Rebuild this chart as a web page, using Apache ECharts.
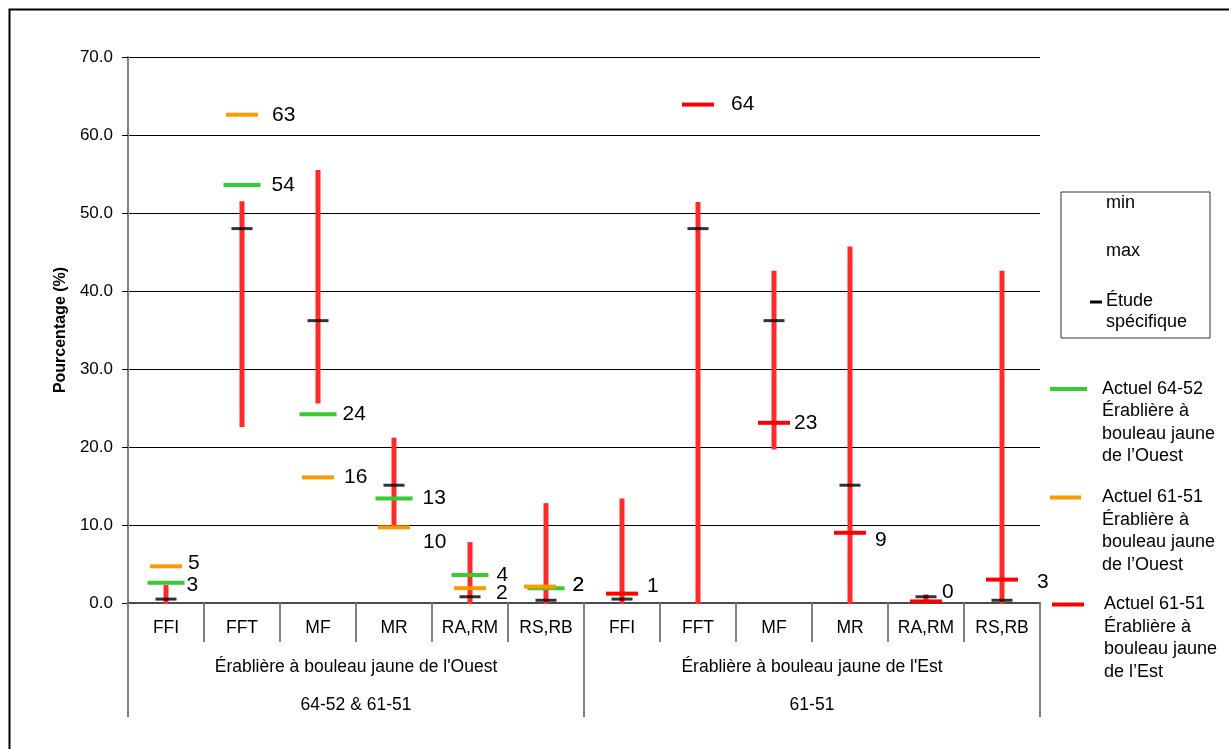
<!DOCTYPE html>
<html>
<head>
<meta charset="utf-8">
<script src="https://cdn.jsdelivr.net/npm/echarts@6/dist/echarts.min.js"></script>
<style>
html,body{margin:0;padding:0;background:#fff;}
#chart{width:1229px;height:749px;}
</style>
</head>
<body>
<div id="chart"></div>
<script>
// ---------- data ----------
const categories = ['FFI','FFT','MF','MR','RA,RM','RS,RB','FFI','FFT','MF','MR','RA,RM','RS,RB'];
const groups = ["Érablière à bouleau jaune de l'Ouest", "Érablière à bouleau jaune de l'Est"];
const periods = ['64-52 & 61-51', '61-51'];
const rangeMin = [0, 22.7, 25.7, 10.0, 0, 0,   0, 0, 19.8, 0, 0, 0];
const rangeMax = [2.3, 51.5, 55.5, 21.2, 7.8, 12.8,   13.4, 51.4, 42.6, 45.7, 1.1, 42.6];
const etude = [0.5, 48.0, 36.2, 15.1, 0.8, 0.35,   0.5, 48.0, 36.2, 15.1, 0.8, 0.35];
const actuel6452Ouest = [2.6, 53.6, 24.2, 13.4, 3.6, 1.9, null, null, null, null, null, null];
const actuel6151Ouest = [4.7, 62.6, 16.1, 9.7, 1.9, 2.1, null, null, null, null, null, null];
const actuel6151Est = [null, null, null, null, null, null, 1.2, 63.9, 23.1, 9.0, 0.2, 3.0];
const yTicks = [0, 10, 20, 30, 40, 50, 60, 70];
const boxLegend = ['min', 'max', 'Étude\nspécifique'];
const seriesNames = [
  'Actuel 64-52\nÉrablière à\nbouleau jaune\nde l’Ouest',
  'Actuel 61-51\nÉrablière à\nbouleau jaune\nde l’Ouest',
  'Actuel 61-51\nÉrablière à\nbouleau jaune\nde l’Est'
];

// ---------- styles ----------
const FONT = '"Liberation Sans", Arial, sans-serif';
const GREEN = '#33cc33', ORANGE = '#ff9900', RED = '#ff0000', BAR_RED = '#ff2a2a';

// label nudges (pixels) to match the original placement
const nudges = {
  green:  {0:[-6,2], 1:[3,0], 2:[-2,0], 3:[2,0], 5:[0,-3]},
  orange: {0:[-2,-3], 1:[6,0], 2:[2,0], 3:[5,15], 4:[2,5], 5:[8.5,-1.4]},
  red:    {6:[1,-7], 7:[9,0], 8:[-4,0], 9:[1,7], 10:[-8,-9], 11:[11,3]}
};
const symbolShift = {orange: {5: [-6, 0]}};

function markData(vals, key){
  return vals.map((v,i) => {
    if (v == null) return '-';
    const item = {value: v, label: {offset: nudges[key][i] || [0,0]}};
    if (symbolShift[key] && symbolShift[key][i]) item.symbolOffset = symbolShift[key][i];
    return item;
  });
}
function markSeries(name, vals, key, color, size){
  return {
    name: name, type: 'scatter', xAxisIndex: 0,
    symbol: 'rect', symbolSize: size,
    itemStyle: {color: color, opacity: 1},
    label: {show: true, position: 'right', distance: 8, color: '#000',
      fontFamily: FONT, fontSize: 21,
      formatter: p => String(Math.round(p.value))},
    data: markData(vals, key), z: 5, silent: true
  };
}

const chart = echarts.init(document.getElementById('chart'), null, {renderer: 'canvas'});

// legend graphics
const legendGraphics = [];
legendGraphics.push({type:'rect', shape:{x:1061, y:192, width:149, height:146},
  style:{fill:'none', stroke:'#333', lineWidth:1}});
const boxY = [204, 252, 302];
boxLegend.forEach((t,i) => {
  legendGraphics.push({type:'text', x:1106, y:boxY[i]-11,
    style:{text:t, font:'18px ' + FONT, fill:'#000', textAlign:'left', textVerticalAlign:'top', lineHeight:21}});
});
legendGraphics.push({type:'line', shape:{x1:1090, y1:302, x2:1102, y2:302}, style:{stroke:'#000', lineWidth:3}});

const legColors = [GREEN, ORANGE, RED];
const legY = [389, 497.5, 604.5];
const legLine = [[1050,1087],[1050,1081],[1052,1084]];
const legTextX = [1102, 1102, 1104];
seriesNames.forEach((t,i) => {
  legendGraphics.push({type:'line', shape:{x1:legLine[i][0], y1:legY[i], x2:legLine[i][1], y2:legY[i]},
    style:{stroke:legColors[i], lineWidth:4}});
  legendGraphics.push({type:'text', x:legTextX[i], y:legY[i]-11.25,
    style:{text:t, font:'18px ' + FONT, fill:'#000', textAlign:'left', textVerticalAlign:'top', lineHeight:22.5}});
});
// outer frame
legendGraphics.push({type:'rect', shape:{x:9.5, y:9.5, width:1240, height:760},
  style:{fill:'none', stroke:'#000', lineWidth:2}, z:-1});

const option = {
  backgroundColor: '#fff',
  animation: false,
  textStyle: {fontFamily: FONT},
  grid: {left: 128, right: 189, top: 57, bottom: 146, containLabel: false},
  xAxis: [
    {
      type: 'category', data: categories, position: 'bottom', boundaryGap: true,
      axisLine: {show: true, lineStyle: {color: '#4d4d4d', width: 2}},
      axisTick: {show: true, interval: 0, length: 39, lineStyle: {color: '#808080', width: 2}},
      axisLabel: {interval: 0, margin: 16, color: '#000', fontSize: 17.5, fontFamily: FONT},
      splitLine: {show: false}
    },
    {
      type: 'category', data: groups, position: 'bottom', boundaryGap: true,
      axisLine: {show: false},
      axisTick: {show: true, interval: 0, length: 114, lineStyle: {color: '#808080', width: 2}},
      axisLabel: {interval: 0, margin: 45, color: '#000', fontSize: 17.5, fontFamily: FONT, lineHeight: 38,
        formatter: (v, i) => v + '\n' + periods[i]},
      splitLine: {show: false}
    }
  ],
  yAxis: {
    type: 'value', min: yTicks[0], max: yTicks[yTicks.length-1], interval: yTicks[1]-yTicks[0],
    name: 'Pourcentage (%)', nameLocation: 'middle', nameGap: 57, nameRotate: 90,
    nameTextStyle: {fontWeight: 'bold', fontSize: 16, color: '#000', fontFamily: FONT},
    axisLine: {show: true, lineStyle: {color: '#808080', width: 2}},
    axisTick: {show: true, length: 6, lineStyle: {color: '#000', width: 1}},
    axisLabel: {margin: 15, color: '#000', fontSize: 17, fontFamily: FONT, formatter: v => v.toFixed(1)},
    splitLine: {show: true, lineStyle: {color: '#000', width: 1}}
  },
  graphic: legendGraphics,
  series: [
    {
      name: 'min-max', type: 'custom', xAxisIndex: 0, silent: true, z: 2,
      data: categories.map((c,i) => [i, rangeMin[i], rangeMax[i]]),
      encode: {x: 0, y: [1, 2]},
      renderItem: function(params, api){
        const lo = api.coord([api.value(0), api.value(1)]);
        const hi = api.coord([api.value(0), api.value(2)]);
        return {type: 'line', shape: {x1: lo[0], y1: lo[1] + 1, x2: hi[0], y2: hi[1]},
          style: {stroke: BAR_RED, lineWidth: 5}};
      }
    },
    {
      name: 'Étude spécifique', type: 'scatter', xAxisIndex: 0, silent: true, z: 3,
      symbol: 'rect', symbolSize: [21, 3], itemStyle: {color: '#000'},
      data: etude
    },
    markSeries(seriesNames[0], actuel6452Ouest, 'green', GREEN, [37, 4]),
    markSeries(seriesNames[1], actuel6151Ouest, 'orange', ORANGE, [32, 4]),
    markSeries(seriesNames[2], actuel6151Est, 'red', RED, [32, 4])
  ]
};
chart.setOption(option);
</script>
</body>
</html>
